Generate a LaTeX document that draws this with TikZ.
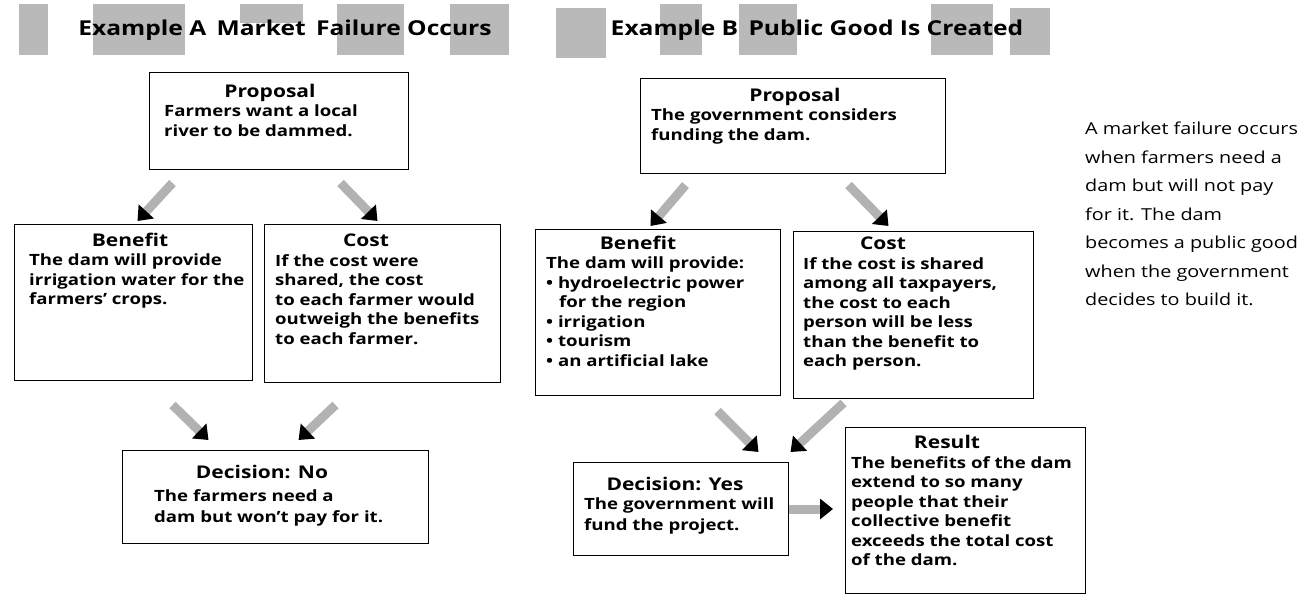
\documentclass[tikz,border=0pt]{standalone}
\usepackage{fontspec}
\setmainfont{Open Sans}[FakeStretch=1.2]
\usetikzlibrary{arrows.meta,calc}
\begin{document}
\begin{tikzpicture}[x=1pt,y=-1pt,
  box/.style={draw=black, line width=1pt, fill=white, inner sep=0pt, anchor=north west},
  hd/.style={font=\fontsize{17.5}{20}\selectfont\bfseries, inner sep=0pt, anchor=base},
  tb/.style={font=\fontsize{15.5}{19.5}\selectfont\bfseries, inner sep=0pt, anchor=north west, align=left},
  ttl/.style={font=\fontsize{20.5}{24}\selectfont\bfseries, inner sep=0pt, anchor=center},
  patch/.style={fill=gray!55, draw=none},
  fat/.style={draw=gray!60, line width=9pt, -{Triangle[length=13pt,width=20pt,color=black]}},
  side/.style={font=\fontsize{16.5}{28.5}\selectfont, inner sep=0pt, anchor=north west, align=left}]
\useasboundingbox (0,0) rectangle (1314,603);
% header patches A
\fill[patch] (19,4) rectangle (48,55);
\fill[patch] (93,4) rectangle (185,55);
\fill[patch] (240,4) rectangle (303,23);
\fill[patch] (337,4) rectangle (404,55);
\fill[patch] (450,4) rectangle (509,55);
% header patches B
\fill[patch] (556,8) rectangle (606,58);
\fill[patch] (660,4) rectangle (702,55);
\fill[patch] (739,4) rectangle (797,55);
\fill[patch] (931,4) rectangle (993,55);
\fill[patch] (1010,8) rectangle (1050,55);
\node[ttl] (titleA) at (285,30) {Example A\enspace Market\enspace Failure Occurs};
\node[ttl] (titleB) at (817,30) {Example B\enspace Public Good Is Created};
% Example A
\node[box, minimum width=259, minimum height=97] (propA) at (149,72) {};
\node[hd] (propAh) at (270,97) {Proposal};
\node[tb] (propAb) at (164,105) {Farmers want a local\\river to be dammed.};
\node[box, minimum width=238, minimum height=156] (benA) at (14,224) {};
\node[hd] (benAh) at (130,246) {Benefit};
\node[tb] (benAb) at (29,254) {The dam will provide\\irrigation water for the\\farmers' crops.};
\node[box, minimum width=236, minimum height=158] (costA) at (264,224) {};
\node[hd] (costAh) at (366,246) {Cost};
\node[tb] (costAb) at (275,254) {If the cost were\\shared, the cost\\to each farmer would\\outweigh the benefits\\to each farmer.};
\node[box, minimum width=306, minimum height=93] (decNo) at (122,450) {};
\node[hd] (decNoh) at (262,478) {Decision: No};
\node[tb, font=\fontsize{15.5}{21}\selectfont\bfseries] (decNob) at (154,489) {The farmers need a\\dam but won't pay for it.};
% Example B
\node[box, minimum width=305, minimum height=95] (propB) at (640,78) {};
\node[hd] (propBh) at (795,101) {Proposal};
\node[tb] (propBb) at (651,109) {The government considers\\funding the dam.};
\node[box, minimum width=245, minimum height=166] (benB) at (535,229) {};
\node[hd] (benBh) at (638,249) {Benefit};
\node[tb] (benBb) at (546,257) {The dam will provide:\\\textbullet\ hydroelectric power\\\hspace*{13pt}for the region\\\textbullet\ irrigation\\\textbullet\ tourism\\\textbullet\ an artificial lake};
\node[box, minimum width=240, minimum height=167] (costB) at (793,231) {};
\node[hd] (costBh) at (883,249) {Cost};
\node[tb] (costBb) at (803,257) {If the cost is shared\\among all taxpayers,\\the cost to each\\person will be less\\than the benefit to\\each person.};
\node[box, minimum width=215, minimum height=93] (decYes) at (573,462) {};
\node[hd] (decYesh) at (675,490) {Decision: Yes};
\node[tb, font=\fontsize{15.5}{21}\selectfont\bfseries] (decYesb) at (584,498) {The government will\\fund the project.};
\node[box, minimum width=240, minimum height=166] (result) at (845,427) {};
\node[hd] (resulth) at (947,448) {Result};
\node[tb] (resultb) at (851,456) {The benefits of the dam\\extend to so many\\people that their\\collective benefit\\exceeds the total cost\\of the dam.};
\node[side] (note) at (1085,122) {A market failure occurs\\when farmers need a\\dam but will not pay\\for it. The dam\\becomes a public good\\when the government\\decides to build it.};
% arrows
\draw[fat] ([shift={(-106.5,13)}]propA.south) -- ([shift={(4,-3)}]benA.north);
\draw[fat] ([shift={(61.5,13)}]propA.south) -- ([shift={(-5,-3)}]costA.north);
\draw[fat] ([shift={(39,24)}]benA.south) -- ([shift={(-67,-10)}]decNo.north);
\draw[fat] ([shift={(-47,22)}]costA.south) -- ([shift={(23,-10)}]decNo.north);
\draw[fat] ([shift={(-107.5,11)}]propB.south) -- ([shift={(-7.5,-3)}]benB.north);
\draw[fat] ([shift={(55.5,11)}]propB.south) -- ([shift={(-25,-5)}]costB.north);
\draw[fat] ([shift={(59.5,15)}]benB.south) -- ([shift={(77.5,-10)}]decYes.north);
\draw[fat] ([shift={(-70,4)}]costB.south) -- ([shift={(109.5,-10)}]decYes.north);
\draw[fat, shorten >=12pt] (decYes.east) -- (decYes.east -| result.west);
\end{tikzpicture}
\end{document}
